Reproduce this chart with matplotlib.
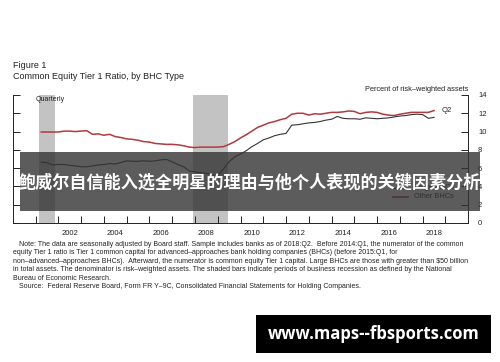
import numpy as np
import matplotlib
matplotlib.use("Agg")
import matplotlib.pyplot as plt
from matplotlib.patches import Rectangle

# ---------------- data ----------------
start_year = 2001.25  # 2001:Q1, plotted at quarter end
other_bhcs = [9.95, 9.95, 9.95, 9.95, 10.05, 10.05, 10.0, 10.05,
              10.1, 9.7, 9.75, 9.6, 9.7, 9.45, 9.35, 9.2,
              9.15, 9.05, 8.9, 8.85, 8.7, 8.65, 8.6, 8.6,
              8.55, 8.45, 8.3, 8.25, 8.3, 8.3, 8.3, 8.3,
              8.35, 8.6, 8.9, 9.3, 9.65, 10.05, 10.45, 10.7,
              10.95, 11.1, 11.3, 11.45, 11.9, 12.0, 12.0, 11.8,
              11.95, 11.9, 12.0, 12.1, 12.1, 12.15, 12.25, 12.2,
              11.95, 12.1, 12.15, 12.1, 11.9, 11.8, 11.75, 11.9,
              12.0, 12.1, 12.1, 12.1, 12.1, 12.3]
large_bhcs = [6.65, 6.6, 6.35, 6.4, 6.4, 6.3, 6.25, 6.15,
              6.15, 6.25, 6.35, 6.4, 6.5, 6.45, 6.6, 6.8,
              6.75, 6.75, 6.8, 6.75, 6.8, 6.9, 6.95, 6.7,
              6.4, 6.15, 5.7, 5.6, 5.5, 5.45, 5.3, 5.15,
              5.9, 6.7, 7.25, 7.55, 7.9, 8.35, 8.7, 9.1,
              9.3, 9.55, 9.7, 9.8, 10.7, 10.75, 10.85, 10.95,
              11.0, 11.1, 11.25, 11.35, 11.65, 11.45, 11.4, 11.4,
              11.35, 11.5, 11.45, 11.4, 11.45, 11.5, 11.6, 11.7,
              11.75, 11.85, 11.9, 11.85, 11.45, 11.55]
recessions = [(2001.17, 2001.86), (2007.92, 2009.45)]
year_ticks = list(range(2001, 2020))
year_labels = ["2002", "2004", "2006", "2008", "2010", "2012", "2014", "2016", "2018"]
y_ticks = [0, 2, 4, 6, 8, 10, 12, 14]

dates = start_year + 0.25 * np.arange(len(other_bhcs))

# ---------------- figure ----------------
plt.rcParams['font.family'] = ['Liberation Sans', 'DejaVu Sans']
fig = plt.figure(figsize=(5.0, 3.62), dpi=100)
ax = fig.add_axes([0.0255, 0.384, 0.911, 0.3536])

for a, b in recessions:
    ax.axvspan(a, b, color='#c3c3c3', lw=0, zorder=0)

ax.plot(dates, other_bhcs, color='#b03a3e', lw=1.1, zorder=3)
ax.plot(dates, large_bhcs, color='#333333', lw=0.8, zorder=3)

ax.set_xlim(2000, 2020)
ax.set_ylim(0, 14)
ax.spines['top'].set_visible(False)
for s in ['left', 'right', 'bottom']:
    ax.spines[s].set_linewidth(0.7)
    ax.spines[s].set_color('#222222')

ax.set_yticks(y_ticks)
ax.tick_params(axis='y', which='major', left=True, right=True, labelleft=False,
               labelright=True, direction='in', length=5, width=0.7,
               labelsize=5.5, pad=7, colors='#222222')
ax.set_xticks(year_ticks)
ax.set_xticklabels([])
ax.tick_params(axis='x', which='major', direction='in', length=5, width=0.7,
               colors='#222222')
ax.set_xticks([int(y) + 0.5 for y in year_labels], minor=True)
ax.set_xticklabels(year_labels, minor=True)
ax.tick_params(axis='x', which='minor', length=0, labelsize=5.5, pad=5,
               colors='#222222')

ax.text(2001.0, 13.5, "Quarterly", fontsize=5, va='center', ha='left', color='#222222')
ax.text(2018.85, 12.35, "Q2", fontsize=5.5, va='center', ha='left', color='#222222')

# legend (manual, in data coords)
ax.plot([2016.7, 2017.35], [3.85, 3.85], color='#333333', lw=0.9, zorder=3)
ax.text(2017.6, 3.85, "Large BHCs", fontsize=5.3, va='center', ha='left', color='#222222')
ax.plot([2016.7, 2017.35], [2.85, 2.85], color='#b03a3e', lw=1.2, zorder=3)
ax.text(2017.6, 2.85, "Other BHCs", fontsize=5.3, va='center', ha='left', color='#222222')

# titles
fig.text(0.026, 0.82, "Figure 1", fontsize=6.5, ha='left', va='center', color='#222222')
fig.text(0.026, 0.789, "Common Equity Tier 1 Ratio, by BHC Type", fontsize=6.5,
         ha='left', va='center', color='#222222')
fig.text(0.936, 0.754, "Percent of risk\u2013weighted assets", fontsize=5.3,
         ha='right', va='center', color='#222222')

note_lines = [
    "   Note: The data are seasonally adjusted by Board staff. Sample includes banks as of 2018:Q2.  Before 2014:Q1, the numerator of the common",
    "equity Tier 1 ratio is Tier 1 common capital for advanced\u2013approaches bank holding companies (BHCs) (before 2015:Q1, for",
    "non\u2013advanced\u2013approaches BHCs).  Afterward, the numerator is common equity Tier 1 capital. Large BHCs are those with greater than $50 billion",
    "in total assets. The denominator is risk\u2013weighted assets. The shaded bars indicate periods of business recession as defined by the National",
    "Bureau of Economic Research.",
    "   Source:  Federal Reserve Board, Form FR Y\u20139C, Consolidated Financial Statements for Holding Companies.",
]
y0 = 362 - 244
for i, line in enumerate(note_lines):
    fig.text(13 / 500, (y0 - i * 8.6) / 362, line, fontsize=5.0, ha='left',
             va='center', color='#222222')

# overlay banner
fig.patches.append(Rectangle((20 / 500, (362 - 211) / 362), 460 / 500, 59 / 362,
                             transform=fig.transFigure, facecolor=(0.2, 0.2, 0.2),
                             alpha=0.8, edgecolor='none', zorder=10))
fig.text(0.5, (362 - 183) / 362, "鲍威尔自信能入选全明星的理由与他个人表现的关键因素分析",
         fontsize=12.3, fontweight='bold', color='white', ha='center', va='center',
         family=['Noto Sans CJK SC', 'DejaVu Sans'], zorder=11)

# watermark box
fig.patches.append(Rectangle((256 / 500, (362 - 353) / 362), 235 / 500, 38 / 362,
                             transform=fig.transFigure, facecolor='black',
                             edgecolor='none', zorder=10))
fig.text((373.5) / 500, (362 - 334) / 362, "www.maps--fbsports.com", fontsize=12,
         fontweight='bold', color='white', ha='center', va='center',
         family=['Open Sans', 'DejaVu Sans'], zorder=11)

fig.savefig("out.png", dpi=100)
